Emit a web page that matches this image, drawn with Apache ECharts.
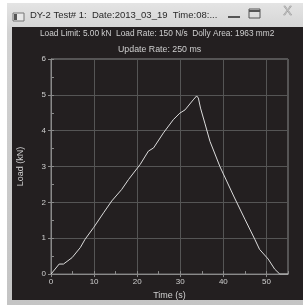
<!DOCTYPE html>
<html>
<head>
<meta charset="utf-8">
<script src="https://cdn.jsdelivr.net/npm/echarts@6/dist/echarts.min.js"></script>
<style>
html, body { margin: 0; padding: 0; background: #fff; }
#chart { width: 303px; height: 305px; }
</style>
</head>
<body>
<div id="chart"></div>
<script>
// load curve
var timeS = [0, 1.9, 2.9, 3.3, 4.9, 6.8, 7.9, 9.9, 12.2, 14.1, 16.4, 18.0, 20.7, 22.6, 23.8, 26.1, 28.4, 29.9, 31.1, 33.0, 33.8, 34.2, 34.7, 35.7, 36.9, 39.2, 42.5, 45.0, 47.3, 48.4, 50.4, 51.9, 53.1, 55];
var loadKN = [0, 0.28, 0.28, 0.30, 0.46, 0.74, 0.97, 1.30, 1.71, 2.04, 2.36, 2.64, 3.06, 3.43, 3.52, 3.94, 4.31, 4.49, 4.58, 4.86, 4.97, 4.91, 4.63, 4.21, 3.70, 3.0, 2.15, 1.53, 0.97, 0.69, 0.42, 0.14, 0, 0];

var windowTitle = "DY-2 Test# 1:  Date:2013_03_19  Time:08:...";
var infoLine1 = "Load Limit: 5.00 kN  Load Rate: 150 N/s  Dolly Area: 1963 mm2";
var infoLine2 = "Update Rate: 250 ms";

var txt = '#cfcfcf';
var font = 'Liberation Sans';

var points = [];
for (var i = 0; i < timeS.length; ++i) {
    points.push([timeS[i], loadKN[i]]);
}

var chart = echarts.init(document.getElementById('chart'));
chart.setOption({
    backgroundColor: '#fff',
    animation: false,
    graphic: [
        // window frame
        { type: 'rect', z: -10, shape: { x: 7, y: 3, width: 296, height: 302 },
          style: { fill: new echarts.graphic.LinearGradient(0, 0, 0, 1, [
              { offset: 0, color: '#e4e4e4' }, { offset: 0.1, color: '#d2d2d2' }, { offset: 1, color: '#c4c4c4' }]) } },
        { type: 'rect', z: -9, shape: { x: 12, y: 27, width: 291, height: 273 }, style: { fill: '#231f20' } },
        // icon
        { type: 'rect', z: -8, shape: { x: 13, y: 13, width: 11, height: 8 }, style: { fill: '#e8e8e8', stroke: '#777', lineWidth: 1 } },
        { type: 'rect', z: -8, shape: { x: 14, y: 14, width: 3, height: 6 }, style: { fill: '#555' } },
        { type: 'text', z: -8, left: 30, top: 10,
          style: { text: windowTitle, fill: '#2a2a2a', font: '9.5px "Liberation Sans"' } },
        // min / max / close buttons
        { type: 'line', z: -8, shape: { x1: 228, y1: 17, x2: 240, y2: 17 }, style: { stroke: '#555', lineWidth: 2 } },
        { type: 'rect', z: -8, shape: { x: 249, y: 9, width: 11, height: 9 }, style: { fill: 'none', stroke: '#555', lineWidth: 1 } },
        { type: 'line', z: -8, shape: { x1: 249, y1: 11, x2: 260, y2: 11 }, style: { stroke: '#555', lineWidth: 2 } },
        { type: 'text', z: -8, left: 283, top: 5,
          style: { text: 'X', fill: '#bbb', stroke: '#888', lineWidth: 0.5, font: '13px "Liberation Sans"' } },
        // info lines
        { type: 'text', z: 5, left: 40, top: 30,
          style: { text: infoLine1, fill: txt, font: '8.3px "Liberation Sans"' } },
        { type: 'text', z: 5, left: 118, top: 45,
          style: { text: infoLine2, fill: txt, font: '8.8px "Liberation Sans"' } }
    ],
    grid: {
        left: 51, right: 15, top: 59, bottom: 30,
        show: true, borderColor: '#8a8a8a', borderWidth: 1, backgroundColor: 'transparent'
    },
    xAxis: [{
        type: 'value', min: 0, max: 55, interval: 10,
        name: 'Time (s)', nameLocation: 'middle', nameGap: 16,
        nameTextStyle: { color: txt, fontSize: 9, fontFamily: font },
        axisLine: { lineStyle: { color: '#8a8a8a' } },
        axisTick: { show: true, length: 3, lineStyle: { color: '#8a8a8a' } },
        axisLabel: { color: txt, fontSize: 8, fontFamily: font, margin: 4, showMaxLabel: false },
        splitLine: { lineStyle: { color: '#555' } }
    }, {
        type: 'value', min: 0, max: 55, interval: 5, position: 'bottom',
        axisLine: { show: false },
        axisTick: { show: true, inside: true, length: 3, lineStyle: { color: '#8a8a8a' } },
        axisLabel: { show: false },
        splitLine: { show: false }
    }],
    yAxis: [{
        type: 'value', min: 0, max: 6, interval: 1,
        name: 'Load (kN)', nameLocation: 'middle', nameGap: 26, nameRotate: 90,
        nameTextStyle: { color: txt, fontSize: 9, fontFamily: font },
        axisLine: { show: true, lineStyle: { color: '#8a8a8a' } },
        axisTick: { show: true, length: 3, lineStyle: { color: '#8a8a8a' } },
        axisLabel: { color: txt, fontSize: 8, fontFamily: font, margin: 5 },
        splitLine: { lineStyle: { color: '#555' } }
    }, {
        type: 'value', min: 0, max: 6, interval: 0.5, position: 'left',
        axisLine: { show: false },
        axisTick: { show: true, inside: true, length: 3, lineStyle: { color: '#8a8a8a' } },
        axisLabel: { show: false },
        splitLine: { show: false }
    }],
    series: [{
        type: 'line',
        data: points,
        showSymbol: false,
        lineStyle: { color: '#dcdcdc', width: 1 }
    }]
});
</script>
</body>
</html>
